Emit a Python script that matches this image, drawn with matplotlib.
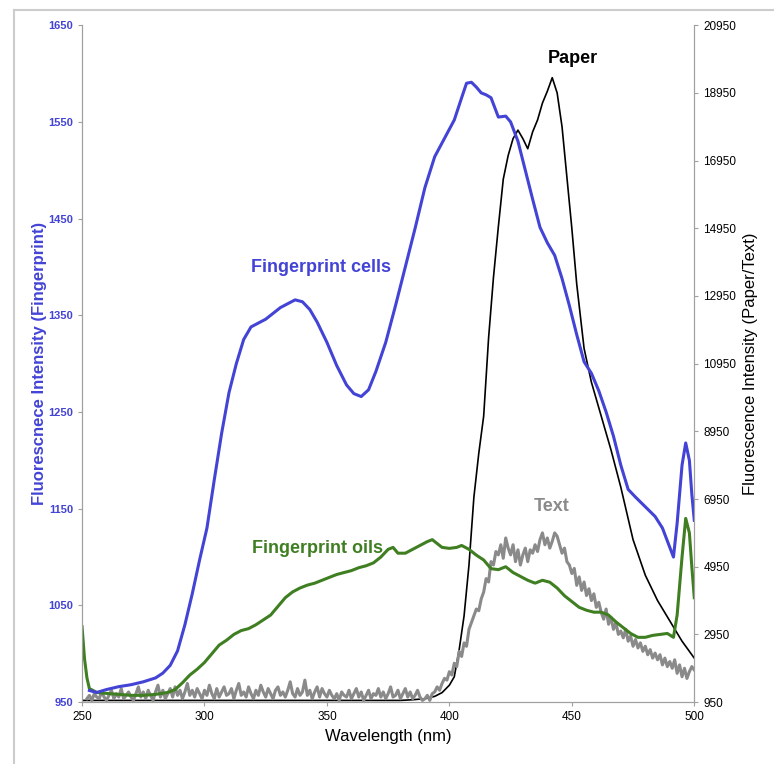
import matplotlib
matplotlib.use('Agg')
import matplotlib.pyplot as plt
import numpy as np

plt.rcParams['font.family'] = ['Liberation Sans', 'DejaVu Sans']

# fingerprint cells (left axis)
cells_nm = [253, 256, 260, 265, 270, 275, 280, 283, 286, 289, 292, 295, 298, 301, 304, 307,
            310, 313, 316, 319, 322, 325, 328, 331, 334, 337, 340, 343, 346, 350, 354, 358,
            361, 364, 367, 370, 374, 378, 382, 386, 390, 394, 398, 402, 405, 407, 409, 411,
            413, 415, 417, 420, 423, 425, 428, 431, 434, 437, 440, 443, 446, 449, 452, 455,
            458, 461, 464, 467, 470, 473, 476, 480, 484, 487, 490, 491.5, 493, 495, 496.5,
            498, 499, 500]
cells_val = [962, 960, 963, 966, 968, 971, 975, 980, 988, 1003, 1030, 1062, 1097, 1130, 1180, 1228,
             1270, 1300, 1325, 1338, 1342, 1346, 1352, 1358, 1362, 1366, 1364, 1356, 1343, 1322, 1298, 1278,
             1269, 1266, 1273, 1292, 1322, 1360, 1400, 1440, 1482, 1514, 1533, 1552, 1575, 1590, 1591, 1586,
             1580, 1578, 1575, 1555, 1556, 1550, 1530, 1500, 1470, 1441, 1425, 1412, 1388, 1360, 1330, 1302,
             1290, 1272, 1250, 1225, 1195, 1170, 1162, 1152, 1142, 1130, 1110, 1100, 1135, 1195, 1218,
             1200, 1165, 1138]

# fingerprint oils (left axis)
oils_nm = [250, 251, 252, 253, 256, 260, 265, 270, 275, 280, 285, 288, 291, 294, 297, 300,
           303, 306, 309, 312, 315, 318, 321, 324, 327, 330, 333, 336, 339, 342, 345, 348,
           351, 354, 357, 360, 363, 366, 369, 372, 375, 377, 379, 382, 385, 388, 391, 393,
           395, 397, 400, 403, 405, 408, 411, 414, 417, 420, 423, 426, 429, 432, 435, 438,
           441, 444, 447, 450, 453, 456, 459, 462, 465, 468, 471, 474, 477, 480, 483, 486,
           489, 491.5, 493, 495, 496.5, 498, 499, 500]
oils_val = [1028, 995, 975, 964, 960, 959, 958, 957, 957, 958, 960, 963, 970, 978, 984, 991,
            1000, 1009, 1014, 1020, 1024, 1026, 1030, 1035, 1040, 1049, 1058, 1064, 1068, 1071, 1073, 1076,
            1079, 1082, 1084, 1086, 1089, 1091, 1094, 1100, 1108, 1110, 1104, 1104, 1108, 1112, 1116, 1118,
            1114, 1110, 1109, 1110, 1112, 1108, 1102, 1097, 1088, 1087, 1090, 1084, 1080, 1076, 1073, 1076,
            1074, 1068, 1060, 1054, 1048, 1045, 1043, 1043, 1040, 1033, 1027, 1021, 1017, 1017, 1019, 1020,
            1021, 1017, 1040, 1100, 1140, 1125, 1090, 1058]

# paper (right axis)
paper_nm = [250, 260, 270, 280, 290, 300, 310, 320, 330, 340, 350, 360, 370, 380, 385, 390,
            394, 397, 400, 402, 404, 406, 408, 410, 412, 414, 416, 418, 420, 422, 424, 426,
            428, 430, 432, 434, 436, 438, 440, 442, 444, 446, 448, 450, 452, 455, 458, 462,
            466, 470, 475, 480, 485, 490, 495, 500]
paper_val = [1000, 1000, 1000, 1000, 1000, 1000, 1000, 1000, 1000, 1000, 1000, 1000, 1000, 1000, 1020, 1050,
             1120, 1230, 1450, 1700, 2500, 3500, 5000, 7000, 8300, 9400, 11700, 13500, 15000, 16400, 17100, 17600,
             17850, 17600, 17300, 17800, 18150, 18650, 19000, 19400, 18950, 17950, 16450, 14950, 13300, 11400, 10400, 9400,
             8400, 7300, 5750, 4700, 3950, 3350, 2750, 2250]

# text (right axis), 1 nm steps from 252
text_nm = list(range(252, 501))
text_val = [1050, 1150, 1000, 1200, 1100, 1050, 1250, 1100,
            1000, 1150, 1300, 1050, 1200, 1100, 1350, 1050, 1150, 1250,
            1100, 1000, 1200, 1400, 1100, 1250, 1050, 1300, 1150, 1000,
            1250, 1450, 1100, 1300, 1050, 1200, 1350, 1100, 1400, 1150,
            1300, 1050, 1250, 1500, 1150, 1300, 1100, 1350, 1200, 1050,
            1300, 1150, 1450, 1200, 1050, 1350, 1100, 1250, 1400, 1150,
            1200, 1350, 1050, 1300, 1500, 1150, 1250, 1100, 1400, 1200,
            1050, 1300, 1150, 1450, 1250, 1100, 1350, 1200, 1050, 1300,
            1400, 1150, 1250, 1100, 1300, 1550, 1200, 1100, 1350, 1150,
            1250, 1600, 1150, 1300, 1050, 1250, 1400, 1100, 1350, 1200,
            1100, 1300, 1150, 1050, 1200, 1000, 1250, 1150, 1100, 1300,
            1050, 1200, 1350, 1100, 1250, 1000, 1150, 1300, 1050, 1200,
            1150, 1350, 1100, 1250, 1050, 1200, 1400, 1100, 1150, 1300,
            1050, 1200, 1350, 1100, 1250, 1050, 1150, 1300, 1100, 1000,
            1050, 1150, 1000, 1200, 1250, 1400, 1300, 1500, 1650, 1600,
            1850, 1750, 2100, 2000, 2450, 2300, 2700, 2600, 3100, 3300,
            3500, 3700, 3650, 4000, 4200, 4600, 4500, 5100, 5000, 5400,
            5300, 5600, 5200, 5800, 5500, 5300, 5600, 5100, 5450, 5000,
            5300, 5500, 5100, 5450, 5350, 5600, 5400, 5750, 5950, 5600,
            5800, 5500, 5700, 5950, 5850, 5600, 5350, 5500, 5100, 5000,
            4750, 4900, 4400, 4650, 4250, 4500, 4100, 4300, 3950, 4150,
            3750, 3900, 3600, 3400, 3700, 3250, 3450, 3100, 3300, 2950,
            3050, 2850, 3100, 2750, 2900, 2600, 2800, 2550, 2700, 2450,
            2600, 2350, 2500, 2250, 2400, 2200, 2350, 2050, 2250, 2000,
            2150, 1950, 2200, 1800, 2050, 1700, 1950, 1650, 1850, 2000,
            1900]

left_ticks = list(range(950, 1651, 100))
right_ticks = list(range(950, 20951, 2000))
x_ticks = list(range(250, 501, 50))

BLUE = '#4343d6'
GREEN = '#3f7f22'
GRAY = '#8a8a8a'
SPINE = '#a0a0a0'

fig = plt.figure(figsize=(7.74, 7.64), dpi=100)
ax = fig.add_axes([0.106, 0.081, 0.791, 0.886])
ax2 = ax.twinx()
ax.set_zorder(ax2.get_zorder() + 1)
ax.patch.set_visible(False)

ax2.plot(paper_nm, paper_val, color='black', lw=1.2)
ax2.plot(text_nm, text_val, color=GRAY, lw=2.2)
ax.plot(oils_nm, oils_val, color=GREEN, lw=2.2)
ax.plot(cells_nm, cells_val, color=BLUE, lw=2.2)

ax.set_xlim(250, 500)
ax.set_ylim(950, 1650)
ax2.set_ylim(950, 20950)
ax.set_xticks(x_ticks)
ax.set_yticks(left_ticks)
ax2.set_yticks(right_ticks)

for a in (ax, ax2):
    a.spines['top'].set_visible(False)
    for s in ('left', 'right', 'bottom'):
        a.spines[s].set_color(SPINE)
    a.tick_params(length=3, color=SPINE, labelsize=8.5)
ax.tick_params(axis='y', labelcolor=BLUE, labelsize=8)
for t in ax.get_yticklabels():
    t.set_fontweight('bold')

ax.set_xlabel('Wavelength (nm)', fontsize=12)
ax.set_ylabel('Fluorescnece Intensity (Fingerprint)', fontsize=12, color=BLUE, fontweight='bold', labelpad=1)
ax2.set_ylabel('Fluorescence Intensity (Paper/Text)', fontsize=12, labelpad=5)

ax.text(347.5, 1399, 'Fingerprint cells', color=BLUE, fontsize=13, fontweight='bold', ha='center', va='center')
ax.text(346, 1109, 'Fingerprint oils', color=GREEN, fontsize=13, fontweight='bold', ha='center', va='center')
ax.text(450.6, 1616, 'Paper', color='black', fontsize=13, fontweight='bold', ha='center', va='center')
ax.text(441.6, 1152, 'Text', color=GRAY, fontsize=13, fontweight='bold', ha='center', va='center')

# light frame around the picture
fig.add_artist(plt.Line2D([0.018, 1.0], [0.987, 0.987], color='#cccccc', lw=1.5))
fig.add_artist(plt.Line2D([0.018, 0.018], [0.0, 0.987], color='#cccccc', lw=1.5))

fig.savefig('out.png', dpi=100)
